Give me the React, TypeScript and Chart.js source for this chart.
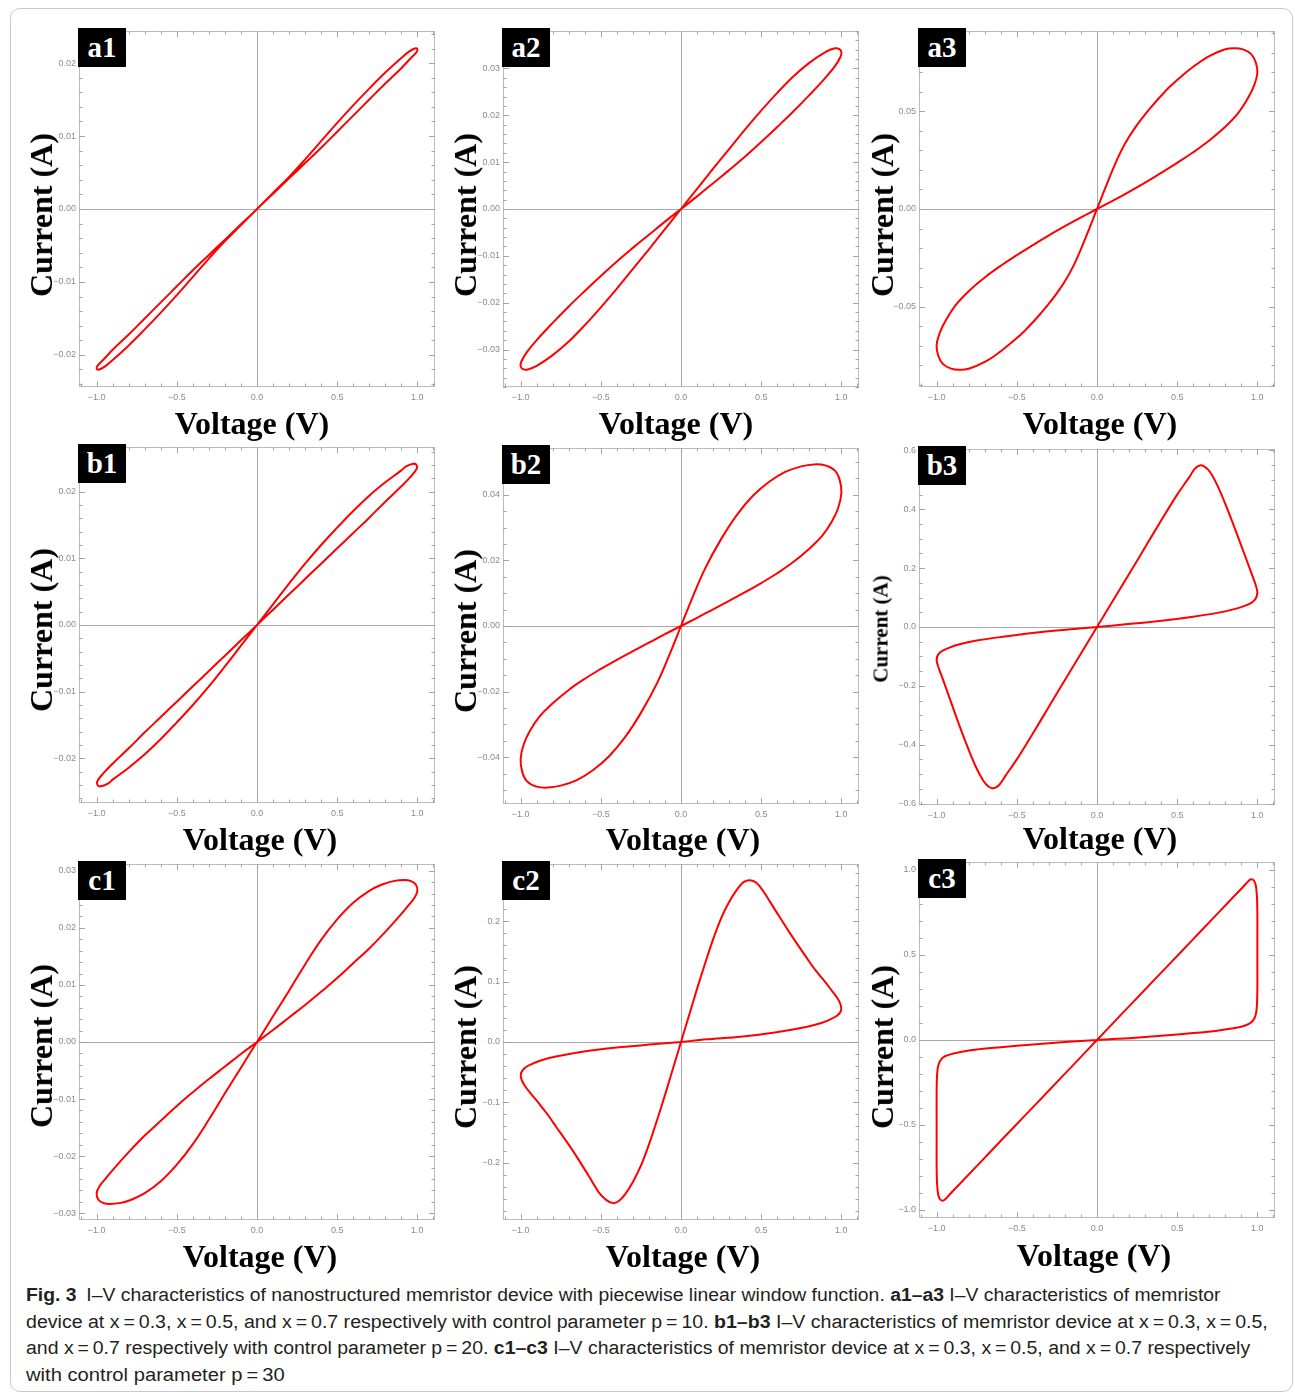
import React, { useEffect, useLayoutEffect, useRef } from "react";
import { Chart, registerables } from "chart.js";

Chart.register(...registerables);

type Pt = [number, number];

// ---------- panel meta ----------
const panelLabels = ["a1", "a2", "a3", "b1", "b2", "b3", "c1", "c2", "c3"];
const xLimit = 1.11;
const xMajorStep = 0.5;
const xMinorStep = 0.1;
const yLimits = [0.0244, 0.038, 0.091, 0.0267, 0.0543, 0.605, 0.0312, 0.295, 1.047];
const yMajorSteps = [0.01, 0.01, 0.05, 0.01, 0.02, 0.2, 0.01, 0.1, 0.5];
const yMinorSteps = [0.002, 0.002, 0.01, 0.002, 0.005, 0.05, 0.002, 0.02, 0.1];
const yDecimals = [2, 2, 2, 2, 2, 1, 2, 1, 1];
const xAxisTitle = "Voltage (V)";
const yAxisTitle = "Current (A)";

// ---------- loops (V, I) in traversal order ----------
const loopA1: Pt[] = [
  [0, 0], [0.1, 0.0021], [0.2, 0.0042], [0.3, 0.0063], [0.4, 0.0084], [0.5, 0.0106], [0.6, 0.0128], [0.7, 0.015], [0.8, 0.0172], [0.9, 0.0193], [0.96, 0.0207], [0.995, 0.0215], [1.0, 0.0219], [0.985, 0.022],
  [0.95, 0.0216], [0.9, 0.0207], [0.8, 0.0187], [0.7, 0.0165], [0.6, 0.0142], [0.5, 0.0118], [0.4, 0.0093], [0.3, 0.0068], [0.2, 0.0044], [0.1, 0.0022], [0, 0],
  [-0.1, -0.0022], [-0.2, -0.0044], [-0.3, -0.0068], [-0.4, -0.0093], [-0.5, -0.0118], [-0.6, -0.0142], [-0.7, -0.0165], [-0.8, -0.0187], [-0.9, -0.0207], [-0.95, -0.0216], [-0.985, -0.022], [-1.0, -0.0219],
  [-0.995, -0.0215], [-0.96, -0.0207], [-0.9, -0.0193], [-0.8, -0.0172], [-0.7, -0.015], [-0.6, -0.0128], [-0.5, -0.0106], [-0.4, -0.0084], [-0.3, -0.0063], [-0.2, -0.0042], [-0.1, -0.0021], [0, 0],
];

const loopA2: Pt[] = [
  [0, 0], [0.1, 0.0027], [0.2, 0.0055], [0.3, 0.0083], [0.4, 0.0112], [0.5, 0.0143], [0.6, 0.0175], [0.7, 0.0208], [0.8, 0.0243], [0.9, 0.028], [0.96, 0.0305], [0.995, 0.0325], [1.0, 0.0336], [0.985, 0.0342], [0.96, 0.0343],
  [0.9, 0.0335], [0.8, 0.0312], [0.7, 0.0283], [0.6, 0.0248], [0.5, 0.021], [0.4, 0.017], [0.3, 0.0128], [0.2, 0.0086], [0.1, 0.0043], [0, 0],
  [-0.1, -0.0043], [-0.2, -0.0086], [-0.3, -0.0128], [-0.4, -0.017], [-0.5, -0.021], [-0.6, -0.0248], [-0.7, -0.0283], [-0.8, -0.0312], [-0.9, -0.0335], [-0.96, -0.0343], [-0.985, -0.0342], [-1.0, -0.0336],
  [-0.995, -0.0325], [-0.96, -0.0305], [-0.9, -0.028], [-0.8, -0.0243], [-0.7, -0.0208], [-0.6, -0.0175], [-0.5, -0.0143], [-0.4, -0.0112], [-0.3, -0.0083], [-0.2, -0.0055], [-0.1, -0.0027], [0, 0],
];

const loopA3: Pt[] = [
  [0, 0], [0.1, 0.0043], [0.2, 0.0088], [0.3, 0.0135], [0.4, 0.0185], [0.5, 0.0236], [0.6, 0.029], [0.7, 0.035], [0.8, 0.042], [0.88, 0.049], [0.94, 0.0565], [0.98, 0.0632], [1.0, 0.0695], [0.99, 0.075], [0.96, 0.0793], [0.91, 0.0816], [0.86, 0.0822],
  [0.8, 0.0817], [0.7, 0.0782], [0.6, 0.0727], [0.5, 0.066], [0.45, 0.0622], [0.4, 0.0579], [0.35, 0.0533], [0.3, 0.0484], [0.25, 0.043], [0.2, 0.0369], [0.15, 0.0296], [0.1, 0.0205], [0.05, 0.0104], [0, 0],
  [-0.05, -0.0104], [-0.1, -0.0205], [-0.15, -0.0296], [-0.2, -0.0369], [-0.25, -0.043], [-0.3, -0.0484], [-0.35, -0.0533], [-0.4, -0.0579], [-0.45, -0.0622], [-0.5, -0.066], [-0.6, -0.0727], [-0.7, -0.0782], [-0.8, -0.0817], [-0.86, -0.0822], [-0.91, -0.0816], [-0.96, -0.0793], [-0.99, -0.075], [-1.0, -0.0695],
  [-0.98, -0.0632], [-0.94, -0.0565], [-0.88, -0.049], [-0.8, -0.042], [-0.7, -0.035], [-0.6, -0.029], [-0.5, -0.0236], [-0.4, -0.0185], [-0.3, -0.0135], [-0.2, -0.0088], [-0.1, -0.0043], [0, 0],
];

const loopB1: Pt[] = [
  [0, 0], [0.1, 0.0023], [0.2, 0.0046], [0.3, 0.0069], [0.4, 0.0092], [0.5, 0.0115], [0.6, 0.0138], [0.7, 0.0161], [0.8, 0.0185], [0.9, 0.0208], [0.96, 0.0223], [0.995, 0.0234], [0.995, 0.024], [0.975, 0.0242],
  [0.93, 0.0238], [0.9, 0.0232], [0.8, 0.0214], [0.7, 0.0194], [0.6, 0.0171], [0.5, 0.0146], [0.4, 0.012], [0.3, 0.0092], [0.2, 0.0062], [0.1, 0.0031], [0, 0],
  [-0.1, -0.0031], [-0.2, -0.0062], [-0.3, -0.0092], [-0.4, -0.012], [-0.5, -0.0146], [-0.6, -0.0171], [-0.7, -0.0194], [-0.8, -0.0214], [-0.9, -0.0232], [-0.93, -0.0238], [-0.975, -0.0242], [-0.995, -0.024],
  [-0.995, -0.0234], [-0.96, -0.0223], [-0.9, -0.0208], [-0.8, -0.0185], [-0.7, -0.0161], [-0.6, -0.0138], [-0.5, -0.0115], [-0.4, -0.0092], [-0.3, -0.0069], [-0.2, -0.0046], [-0.1, -0.0023], [0, 0],
];

const loopB2: Pt[] = [
  [0, 0], [0.1, 0.0025], [0.2, 0.0051], [0.3, 0.0077], [0.4, 0.0103], [0.5, 0.0131], [0.6, 0.0161], [0.7, 0.0195], [0.8, 0.0236], [0.88, 0.0275], [0.94, 0.0318], [0.98, 0.036], [1.0, 0.0405], [0.99, 0.0445], [0.96, 0.0474], [0.9, 0.049], [0.83, 0.0493],
  [0.75, 0.0487], [0.65, 0.047], [0.55, 0.044], [0.45, 0.0398], [0.35, 0.034], [0.25, 0.0265], [0.15, 0.0175], [0.07, 0.0085], [0, 0],
  [-0.07, -0.0085], [-0.15, -0.0175], [-0.25, -0.0265], [-0.35, -0.034], [-0.45, -0.0398], [-0.55, -0.044], [-0.65, -0.047], [-0.75, -0.0487], [-0.83, -0.0493], [-0.9, -0.049], [-0.96, -0.0474], [-0.99, -0.0445], [-1.0, -0.0405],
  [-0.98, -0.036], [-0.94, -0.0318], [-0.88, -0.0275], [-0.8, -0.0236], [-0.7, -0.0195], [-0.6, -0.0161], [-0.5, -0.0131], [-0.4, -0.0103], [-0.3, -0.0077], [-0.2, -0.0051], [-0.1, -0.0025], [0, 0],
];

const loopB3: Pt[] = [
  [0, 0], [0.18, 0.009], [0.39, 0.0205], [0.6, 0.0352], [0.75, 0.048], [0.85, 0.06], [0.92, 0.072], [0.965, 0.083], [0.99, 0.097], [1.0, 0.117],
  [0.99, 0.142], [0.965, 0.18], [0.93, 0.232], [0.87, 0.32], [0.81, 0.405], [0.75, 0.482], [0.705, 0.527], [0.67, 0.545], [0.64, 0.549], [0.61, 0.538], [0.57, 0.505],
  [0.5, 0.45], [0.4, 0.362], [0.3, 0.271], [0.2, 0.18], [0.1, 0.09], [0, 0],
  [-0.1, -0.09], [-0.2, -0.18], [-0.3, -0.271], [-0.4, -0.362], [-0.5, -0.45], [-0.57, -0.505], [-0.61, -0.537], [-0.645, -0.548], [-0.675, -0.543], [-0.71, -0.522], [-0.76, -0.47], [-0.82, -0.39], [-0.875, -0.31], [-0.93, -0.225], [-0.965, -0.172], [-0.99, -0.135], [-1.0, -0.112],
  [-0.99, -0.093], [-0.965, -0.081], [-0.92, -0.07], [-0.85, -0.058], [-0.75, -0.046], [-0.6, -0.034], [-0.39, -0.0195], [-0.18, -0.0085], [0, 0],
];

const loopC1: Pt[] = [
  [0, 0], [0.1, 0.0021], [0.2, 0.0043], [0.3, 0.0065], [0.4, 0.0088], [0.5, 0.0112], [0.6, 0.0138], [0.7, 0.0164], [0.8, 0.0193], [0.88, 0.0218], [0.94, 0.0238], [0.98, 0.0252], [1.0, 0.0265], [0.99, 0.0276], [0.96, 0.0282], [0.92, 0.0284],
  [0.85, 0.0282], [0.78, 0.0276], [0.7, 0.0265], [0.6, 0.0244], [0.5, 0.0215], [0.4, 0.0179], [0.3, 0.0136], [0.2, 0.009], [0.1, 0.0045], [0, 0],
  [-0.1, -0.0045], [-0.2, -0.009], [-0.3, -0.0136], [-0.4, -0.0179], [-0.5, -0.0215], [-0.6, -0.0244], [-0.7, -0.0265], [-0.78, -0.0276], [-0.85, -0.0282], [-0.92, -0.0284], [-0.96, -0.0282], [-0.99, -0.0276], [-1.0, -0.0265],
  [-0.98, -0.0252], [-0.94, -0.0238], [-0.88, -0.0218], [-0.8, -0.0193], [-0.7, -0.0164], [-0.6, -0.0138], [-0.5, -0.0112], [-0.4, -0.0088], [-0.3, -0.0065], [-0.2, -0.0043], [-0.1, -0.0021], [0, 0],
];

const loopC2: Pt[] = [
  [0, 0], [0.16, 0.0045], [0.37, 0.0088], [0.575, 0.0155], [0.78, 0.025], [0.88, 0.032], [0.935, 0.038], [0.975, 0.044], [0.998, 0.052], [0.995, 0.062], [0.975, 0.073], [0.935, 0.087], [0.885, 0.104], [0.83, 0.122], [0.78, 0.141], [0.68, 0.18], [0.575, 0.224], [0.51, 0.251], [0.47, 0.264], [0.43, 0.268],
  [0.39, 0.265], [0.35, 0.253], [0.3, 0.232], [0.25, 0.205], [0.2, 0.17], [0.15, 0.13], [0.1, 0.088], [0.05, 0.044], [0, 0],
  [-0.05, -0.044], [-0.1, -0.088], [-0.15, -0.13], [-0.2, -0.17], [-0.25, -0.205], [-0.3, -0.232], [-0.35, -0.253], [-0.39, -0.264], [-0.425, -0.267], [-0.465, -0.262], [-0.51, -0.25], [-0.575, -0.222], [-0.68, -0.178], [-0.78, -0.14], [-0.83, -0.121], [-0.885, -0.102], [-0.935, -0.086], [-0.975, -0.072], [-0.995, -0.062], [-0.998, -0.052],
  [-0.975, -0.043], [-0.935, -0.037], [-0.88, -0.031], [-0.78, -0.024], [-0.575, -0.0145], [-0.37, -0.0082], [-0.16, -0.0035], [0, 0],
];

const loopC3: Pt[] = [
  [0, 0], [0.2, 0.011], [0.4, 0.025], [0.6, 0.041], [0.75, 0.055], [0.85, 0.069], [0.91, 0.081], [0.95, 0.096], [0.975, 0.117], [0.99, 0.15], [0.997, 0.2], [1.0, 0.3], [1.0, 0.45], [1.0, 0.6], [1.0, 0.75], [0.997, 0.85], [0.99, 0.91], [0.978, 0.938], [0.963, 0.945], [0.95, 0.94],
  [0.9, 0.89], [0.75, 0.742], [0.6, 0.593], [0.45, 0.445], [0.3, 0.297], [0.15, 0.149], [0, 0],
  [-0.15, -0.149], [-0.3, -0.297], [-0.45, -0.445], [-0.6, -0.593], [-0.75, -0.742], [-0.9, -0.89], [-0.95, -0.94], [-0.963, -0.945], [-0.978, -0.938], [-0.99, -0.91], [-0.997, -0.85], [-1.0, -0.75], [-1.0, -0.6], [-1.0, -0.45], [-1.0, -0.3], [-0.997, -0.2], [-0.99, -0.15],
  [-0.975, -0.118], [-0.95, -0.097], [-0.91, -0.083], [-0.85, -0.07], [-0.75, -0.056], [-0.6, -0.043], [-0.4, -0.026], [-0.2, -0.012], [0, 0],
];

const loops: Pt[][] = [loopA1, loopA2, loopA3, loopB1, loopB2, loopB3, loopC1, loopC2, loopC3];
const loopTension = [0.4, 0.4, 0.4, 0.4, 0.4, 0.3, 0.4, 0.3, 0.25];

// ---------- caption ----------
type Seg = { t: string; b?: boolean };
const captionLines: Seg[][] = [
  [{ t: "Fig. 3", b: true }, { t: "\u2002I\u2013V characteristics of nanostructured memristor device with piecewise linear window function. " }, { t: "a1\u2013a3", b: true }, { t: " I\u2013V characteristics of memristor" }],
  [{ t: "device at x\u2009=\u20090.3, x\u2009=\u20090.5, and x\u2009=\u20090.7 respectively with control parameter p\u2009=\u200910. " }, { t: "b1\u2013b3", b: true }, { t: " I\u2013V characteristics of memristor device at x\u2009=\u20090.3, x\u2009=\u20090.5," }],
  [{ t: "and x\u2009=\u20090.7 respectively with control parameter p\u2009=\u200920. " }, { t: "c1\u2013c3", b: true }, { t: " I\u2013V characteristics of memristor device at x\u2009=\u20090.3, x\u2009=\u20090.5, and x\u2009=\u20090.7 respectively" }],
  [{ t: "with control parameter p\u2009=\u200930" }],
];
const captionWidths = [1194, 1242, 1224, 259];

// ---------- layout ----------
const frameLefts = [79, 503, 919];
const frameTops = [31, 31, 31, 447, 448, 449, 864, 864, 862];
const frameSize = 356;
const yTitleX = [41, 465, 882, 41, 465, 881, 41, 465, 882];
const yTitleY = [215, 215, 215, 630, 631, 629, 1046, 1047, 1047];
const yTitleSize = [32, 32, 32, 32, 32, 21, 32, 32, 32];
const xTitleX = [252, 676, 1100, 260, 683, 1100, 260, 683, 1094];
const xTitleY = [423, 423, 423, 839, 839, 838, 1256, 1256, 1255];

const fmt = (v: number, d: number) => {
  const a = Math.abs(v) < 1e-9 ? 0 : v;
  return (a < 0 ? "\u2212" : "") + Math.abs(a).toFixed(d);
};

const framePlugin = {
  id: "mmaFrame",
  beforeDatasetsDraw(chart: any, _args: any, opts: any) {
    const { ctx, chartArea: a, scales } = chart;
    const xs = scales.x;
    const ys = scales.y;
    ctx.save();
    ctx.lineWidth = 1;
    ctx.strokeStyle = "#a9a9a9";
    const x0 = Math.round(xs.getPixelForValue(0)) + 0.5;
    const y0 = Math.round(ys.getPixelForValue(0)) + 0.5;
    ctx.beginPath();
    ctx.moveTo(x0, a.top);
    ctx.lineTo(x0, a.bottom);
    ctx.moveTo(a.left, y0);
    ctx.lineTo(a.right, y0);
    ctx.stroke();
    ctx.strokeStyle = "#bcbcbc";
    ctx.strokeRect(a.left + 0.5, a.top + 0.5, a.right - a.left - 1, a.bottom - a.top - 1);
    ctx.strokeStyle = "#a4a4a4";
    ctx.beginPath();
    const isMajor = (v: number, M: number) => Math.abs(v / M - Math.round(v / M)) < 1e-6;
    for (let k = Math.ceil(xs.min / opts.xMinor - 1e-9); k * opts.xMinor <= xs.max + 1e-9; k++) {
      const v = k * opts.xMinor;
      const len = isMajor(v, opts.xMajor) ? 6 : 3.5;
      const p = Math.round(xs.getPixelForValue(v)) + 0.5;
      ctx.moveTo(p, a.bottom);
      ctx.lineTo(p, a.bottom - len);
      ctx.moveTo(p, a.top);
      ctx.lineTo(p, a.top + len);
    }
    for (let k = Math.ceil(ys.min / opts.yMinor - 1e-9); k * opts.yMinor <= ys.max + 1e-9; k++) {
      const v = k * opts.yMinor;
      const len = isMajor(v, opts.yMajor) ? 6 : 3.5;
      const p = Math.round(ys.getPixelForValue(v)) + 0.5;
      ctx.moveTo(a.left, p);
      ctx.lineTo(a.left + len, p);
      ctx.moveTo(a.right, p);
      ctx.lineTo(a.right - len, p);
    }
    ctx.stroke();
    ctx.restore();
  },
};

const tickFont = { family: "'Liberation Sans', Arial, sans-serif", size: 9 };
const tickColor = "#8a8a8a";

function Panel({ idx }: { idx: number }) {
  const ref = useRef<HTMLCanvasElement>(null);
  const L = frameLefts[idx % 3];
  const T = frameTops[idx];
  const cw = frameSize + 70;
  const ch = frameSize + 30;

  useEffect(() => {
    if (!ref.current) return;
    const dec = yDecimals[idx];
    const chart = new Chart(ref.current, {
      type: "scatter",
      data: {
        datasets: [
          {
            data: loops[idx].map(([x, y]) => ({ x, y })),
            showLine: true,
            borderColor: "#ff0000",
            borderWidth: 2,
            pointRadius: 0,
            tension: loopTension[idx],
            fill: false,
          } as any,
        ],
      },
      options: {
        animation: false,
        responsive: false,
        maintainAspectRatio: false,
        events: [],
        layout: { padding: { left: 0, right: 10, top: 10, bottom: 0 } },
        plugins: {
          legend: { display: false },
          tooltip: { enabled: false },
          mmaFrame: { xMinor: xMinorStep, xMajor: xMajorStep, yMinor: yMinorSteps[idx], yMajor: yMajorSteps[idx] },
        } as any,
        scales: {
          x: {
            type: "linear",
            min: -xLimit,
            max: xLimit,
            afterFit: (s: any) => {
              s.height = 20;
            },
            grid: { display: false, drawTicks: false, tickLength: 0 },
            border: { display: false },
            ticks: {
              stepSize: xMajorStep,
              includeBounds: false,
              autoSkip: false,
              maxRotation: 0,
              padding: 5,
              color: tickColor,
              font: tickFont,
              callback: (v: any) => fmt(Number(v), 1),
            },
          },
          y: {
            type: "linear",
            min: -yLimits[idx],
            max: yLimits[idx],
            afterFit: (s: any) => {
              s.width = 60;
            },
            grid: { display: false, drawTicks: false, tickLength: 0 },
            border: { display: false },
            ticks: {
              stepSize: yMajorSteps[idx],
              includeBounds: false,
              autoSkip: false,
              padding: 3,
              color: tickColor,
              font: tickFont,
              callback: (v: any) => fmt(Number(v), dec),
            },
          },
        } as any,
      },
      plugins: [framePlugin as any],
    });
    return () => chart.destroy();
  }, [idx]);

  return (
    <>
      <canvas
        ref={ref}
        width={cw}
        height={ch}
        style={{ position: "absolute", left: L - 60, top: T - 10, width: cw, height: ch }}
      />
      <div
        style={{
          position: "absolute",
          left: L - 1,
          top: T - 3,
          width: 48,
          height: 39,
          background: "#000",
          color: "#fff",
          fontFamily: "'Liberation Serif', 'Times New Roman', serif",
          fontWeight: "bold",
          fontSize: 29,
          lineHeight: "39px",
          textAlign: "center",
        }}
      >
        {panelLabels[idx]}
      </div>
      <div
        style={{
          position: "absolute",
          left: yTitleX[idx],
          top: yTitleY[idx],
          transform: "translate(-50%, -50%) rotate(-90deg)",
          whiteSpace: "nowrap",
          fontFamily: "'Liberation Serif', 'Times New Roman', serif",
          fontWeight: "bold",
          fontSize: yTitleSize[idx],
          lineHeight: 1,
          color: "#000",
        }}
      >
        {yAxisTitle}
      </div>
      <div
        style={{
          position: "absolute",
          left: xTitleX[idx],
          top: xTitleY[idx],
          transform: "translate(-50%, -50%)",
          whiteSpace: "nowrap",
          fontFamily: "'Liberation Serif', 'Times New Roman', serif",
          fontWeight: "bold",
          fontSize: 32,
          lineHeight: 1,
          color: "#000",
        }}
      >
        {xAxisTitle}
      </div>
    </>
  );
}

function Caption() {
  const refs = useRef<(HTMLDivElement | null)[]>([]);
  useLayoutEffect(() => {
    refs.current.forEach((el, i) => {
      if (!el) return;
      el.style.transform = "none";
      const w = el.offsetWidth;
      if (w > 0) el.style.transform = `scaleX(${captionWidths[i] / w})`;
    });
  }, []);
  return (
    <div style={{ position: "absolute", left: 26, top: 1282 }}>
      {captionLines.map((line, i) => (
        <div key={i} style={{ height: 26.6 }}>
          <div
            ref={(el) => {
              refs.current[i] = el;
            }}
            style={{
              display: "inline-block",
              whiteSpace: "nowrap",
              transformOrigin: "left center",
              fontFamily: "'Liberation Sans', Arial, sans-serif",
              fontSize: 18,
              lineHeight: "26.6px",
              color: "#231f20",
            }}
          >
            {line.map((s, j) => (
              <span key={j} style={{ fontWeight: s.b ? "bold" : "normal" }}>
                {s.t}
              </span>
            ))}
          </div>
        </div>
      ))}
    </div>
  );
}

export default function App() {
  return (
    <div
      style={{
        position: "absolute",
        left: 0,
        top: 0,
        width: 1295,
        height: 1396,
        background: "#fff",
        overflow: "hidden",
      }}
    >
      <div
        style={{
          position: "absolute",
          left: 10,
          top: 8,
          width: 1283,
          height: 1384,
          border: "1.5px solid #c9c9c9",
          borderRadius: 10,
          boxSizing: "border-box",
        }}
      />
      {panelLabels.map((_, i) => (
        <Panel key={i} idx={i} />
      ))}
      <Caption />
    </div>
  );
}
